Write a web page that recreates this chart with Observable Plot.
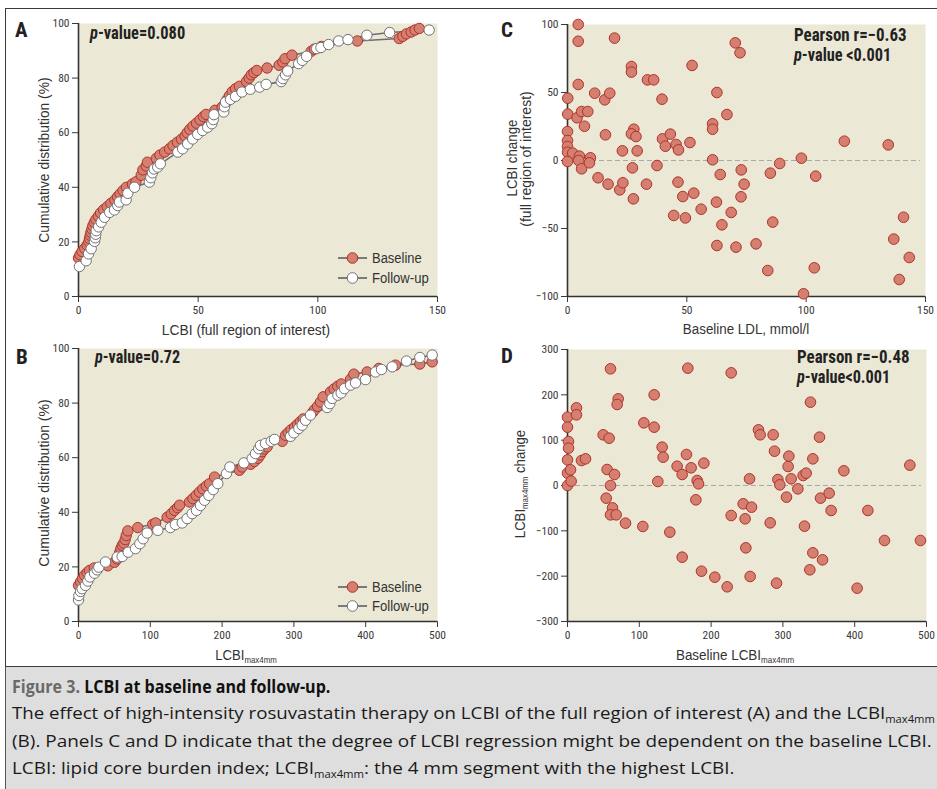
<!DOCTYPE html>
<html><head><meta charset="utf-8">
<script src="https://cdn.jsdelivr.net/npm/d3@7"></script>
<script src="https://cdn.jsdelivr.net/npm/@observablehq/plot@0.6"></script>
<style>
body{margin:0;background:#fff;}
#fig{position:relative;width:937px;height:789px;overflow:hidden;background:#fff;font-family:"Liberation Sans",Arial,sans-serif;color:#333;}
.abs{position:absolute;white-space:nowrap;transform-origin:0 0;line-height:1;}
.pan{position:absolute;}
.pan svg{overflow:visible;}
sub{font-size:0.6em;vertical-align:-0.4em;line-height:0;}
</style></head>
<body><div id="fig"></div>
<script>
// ---------- DATA ----------
const aBaseLCBI = [0,0.6,1.5,2.6,3.6,4.3,4.6,4.9,5.2,5.6,6.0,6.6,7.3,8.3,9.2,10.5,12.0,13.5,15.2,16.3,17.4,18.6,20.0,22.5,24.0,26.2,26.9,28.3,28.8,32.5,34.0,36.0,38.0,39.5,41.3,43.0,44.5,45.4,46.5,47.8,49.3,50.8,52.2,53.3,57.0,60.0,61.3,62.0,63.0,64.2,65.6,67.2,70.2,71.3,72.2,73.3,74.5,78.8,83.8,85.4,86.3,89.2,97.2,98.5,101.5,116.5,134.0,135.5,137.0,139.0,140.6,142.4];
const aBaseCum = [14.1,15.3,16.5,17.6,18.8,20.0,21.2,22.4,23.5,24.7,25.9,27.1,28.2,29.4,30.6,31.8,32.9,34.1,35.3,36.5,37.6,38.8,40.0,41.2,42.0,44.4,46.4,47.8,49.2,50.6,51.8,52.9,54.1,55.3,56.5,57.6,58.8,60.0,61.2,62.4,63.5,64.7,65.9,66.7,68.2,69.4,70.6,72.0,73.5,75.0,76.1,77.0,78.8,80.0,81.2,82.0,82.8,83.7,84.7,85.9,87.1,88.4,89.8,90.6,91.6,93.6,94.5,95.3,96.2,96.9,97.6,98.2];
const aFollowLCBI = [0.4,3.2,4.2,5.3,6.7,7.0,7.2,7.4,8.4,9.5,10.9,13.0,15.0,16.4,17.1,19.9,20.6,23.4,29.6,30.2,30.9,31.6,33.1,34.2,41.5,43.5,45.6,47.7,49.8,51.9,54.0,55.7,56.3,56.6,60.7,61.0,61.4,63.5,65.6,68.3,71.8,75.7,78.4,84.7,85.4,86.5,87.4,92.0,93.5,95.3,99.5,101.3,104.5,108.7,112.6,120.5,130.0,146.5];
const aFollowCum = [11.0,13.1,15.6,17.5,20.2,21.5,22.8,24.1,25.5,27.2,29.0,30.8,31.7,33.3,34.6,35.4,37.8,40.0,41.9,43.5,45.3,46.7,47.4,48.6,52.9,54.1,55.9,57.7,59.4,60.8,62.0,63.3,64.8,66.6,67.6,69.5,71.2,72.2,73.3,74.9,75.9,76.7,77.7,78.7,79.8,81.2,82.6,85.3,86.5,88.0,90.8,91.2,92.3,93.6,94.1,95.7,96.7,97.6];

const bBaseLCBI = [0,2.8,5.5,8.4,12.0,15.3,22.0,40.8,50.1,54.0,56.0,57.5,59.0,61.0,63.1,65.0,66.5,68.7,82.6,103.5,107.5,123.5,129.0,133.7,138.0,140.7,154.6,159.3,163.9,168.5,173.2,178.0,182.5,189.5,224.2,228.0,240.0,245.0,250.0,253.0,256.0,259.0,262.8,283.7,288.3,292.0,296.0,301.0,305.0,309.0,313.0,326.0,329.0,333.0,337.0,340.8,351.0,356.0,361.0,366.0,379.0,383.5,402.0,418.3,441.5,475.4,492.6];
const bBaseCum = [13.2,14.5,15.7,16.9,17.9,18.7,19.6,20.4,21.7,22.9,24.2,25.4,26.7,27.9,28.7,30.0,31.5,33.2,34.4,35.6,36.1,38.2,39.4,40.7,41.7,42.6,43.8,45.0,46.2,47.4,48.6,49.6,50.5,52.9,55.4,56.6,57.6,58.6,59.8,61.0,62.2,63.2,64.0,66.0,68.2,69.2,70.2,71.2,72.2,73.2,74.2,76.6,77.6,78.8,80.4,82.3,84.1,85.2,86.2,87.0,88.8,90.6,91.4,92.7,93.9,94.3,95.1];
const bFollowLCBI = [0,0.5,2.8,5.0,9.7,13.0,15.8,22.3,26.0,28.3,37.6,53.9,60.8,69.2,79.4,85.4,90.0,95.6,110.5,128.0,135.0,144.4,151.3,158.3,164.3,169.9,175.5,181.5,187.6,194.0,206.1,210.8,230.3,241.9,246.5,251.0,253.5,260.4,268.3,273.0,295.3,300.0,306.9,311.5,316.2,323.1,346.3,350.0,353.3,361.2,365.8,370.4,378.8,385.8,399.7,413.6,422.0,436.9,456.8,475.4,492.6];
const bFollowCum = [7.9,9.5,11.0,12.0,13.2,14.8,16.3,17.7,18.9,19.9,21.8,23.6,23.8,25.4,26.7,28.5,30.3,32.4,33.4,34.4,35.5,36.1,37.7,39.5,40.7,42.5,44.4,46.2,48.3,50.5,54.2,56.6,58.1,59.7,61.5,63.3,64.5,65.2,66.0,66.7,67.8,69.1,70.7,71.9,73.7,75.6,78.4,79.8,81.7,82.9,83.7,85.3,86.6,87.4,88.6,91.4,92.3,93.3,95.4,96.7,97.6];

const cLDL = [4.5,4.5,19.7,4.5,0.1,0.1,4,5.9,8.5,7.1,11.4,15.6,17.7,0,0,0,0,2.2,0,5,4.7,5.9,9.6,9.2,12.8,15.9,17,21.9,23.2,23,26.8,26.8,27.8,26.8,28.7,29.2,27.2,27.6,33.1,33.5,36.1,37.5,39.6,39.8,41,43.1,45.5,46.5,46.3,48.3,44.5,49.4,51.3,52.2,52.9,56,60.8,60.8,62.6,60.8,62.4,64,62.6,64.7,66.8,68.6,70.3,72.3,70.6,72.8,74,72.7,79,83.9,85,86,88.9,98,98.9,104,103.4,116,134.4,136.7,140.8,139,143.2];
const cChange = [100,87.7,90,55.9,45.8,34.1,31.4,36,36,25.2,49.5,44.6,49.5,21.3,14.7,10.3,6.1,5.4,-0.7,3.2,0,-6.1,2,-1.7,-12.7,18.9,-17.4,-21.6,-16.4,7.1,69.1,65,23,19.6,17.6,7.1,-5.4,-28.2,-17.4,59.3,59.3,-3.7,45.1,15.9,10.5,19.4,11.8,7.8,-15.9,-26.5,-40.4,-42.2,13.2,69.9,-24,-35.8,27,23,50,0.5,-30.6,-10.3,-62.5,-47.3,33.8,-38.2,86.5,79.2,-63.7,-6.9,-17.4,-26.7,-61.3,-80.9,-9.3,-45.3,-2.2,1.7,-98,-11.5,-78.9,14.2,11.5,-57.8,-41.7,-87.5,-71.3];

const dBase = [0,0,1.4,1.4,0,0,0,5.1,4.2,12.5,12.5,19.5,25.1,49.7,58,59.9,70.6,69.2,55.2,65.5,59.9,53.9,62.7,59.9,67.8,80.8,104.9,106.3,120.7,120.7,125.8,131.8,133.2,142.5,152.7,159.7,159.7,167.6,165.7,172.2,180.6,182.5,178.8,189.9,186.6,205.2,222.4,228,228,244.7,247.4,256.3,253.5,248.4,254.4,266,268.3,286.4,288.3,282.3,293,295.7,291.1,305,308.3,307.3,311.5,320.8,328.2,332.4,330.1,338.4,351,341.7,352.4,364.4,367.2,341.7,355.2,337.5,384.9,418.3,403.4,441.5,476.8,491.6];
const dChange = [150.7,128.7,97,82.4,56.6,27.2,0,9.6,34.6,171.3,155.9,55.1,58.8,111.8,104.4,257.4,191.2,178.7,35.3,24.3,0,-27.9,-49.3,-64.7,-64.7,-83.1,-90.4,138.2,200,128.7,8.8,84.6,62.5,-102.9,42.6,24.3,-158.1,258.8,68.4,39,11,3.7,-31.6,49.3,-189,-202.2,-223.5,248.5,-66.2,-40.4,-73.5,-47.8,14.7,-137.5,-200.7,122.8,111.8,111.8,75.7,-82.4,13.2,1.5,-215.4,-25.7,64.7,41.9,14.7,-7.4,22.1,27.2,-89.7,183.8,106.6,58.8,-27.9,-16.9,-55.1,-148.5,-164,-186,32.4,-55.1,-226.5,-121.3,44.9,-121.3];

const cdfYTicks = [0,20,40,60,80,100];
const aXTicks = [0,50,100,150];
const bXTicks = [0,100,200,300,400,500];
const cYTicks = [-100,-50,0,50,100];
const cXTicks = [0,50,100,150];
const dYTicks = [-300,-200,-100,0,100,200,300];
const dXTicks = [0,100,200,300,400,500];
const seriesNames = ["Baseline","Follow-up"];

// ---------- STYLE ----------
const BG = "#ece8d6";
const RED = "#d47f70";
const REDS = "#b0322a";
const WSTROKE = "#727272";
const LINEC = "#6e6e6e";
const AXC = "#333";
const TICKFONT = '"Liberation Sans Narrow","Roboto Condensed","DejaVu Sans Condensed","Liberation Sans",sans-serif';
const fmt = d => (d < 0 ? "\u2212" + Math.abs(d) : String(d));

const fig = document.getElementById("fig");
const zip = (xs, ys) => xs.map((v, i) => ({v, p: ys[i]}));

function place(node, left, top, w, h) {
  const d = document.createElement("div");
  d.className = "pan";
  d.style.left = left + "px"; d.style.top = top + "px";
  d.style.width = w + "px"; d.style.height = h + "px";
  d.appendChild(node);
  fig.appendChild(d);
}

function cdfPanel(base, follow, xDomain, xTicks, mt, mb) {
  return Plot.plot({
    width: 460, height: 340,
    marginLeft: 78, marginRight: 23, marginTop: mt, marginBottom: mb,
    style: {background: "transparent", fontFamily: TICKFONT, fontSize: "11.5px", color: "#3a3a3a", overflow: "visible", fontStretch: "condensed"},
    x: {domain: xDomain, ticks: xTicks, tickSize: 6, tickPadding: 3, label: null, tickFormat: fmt},
    y: {domain: [0, 100], ticks: cdfYTicks, tickSize: 6, tickPadding: 3, label: null, tickFormat: fmt},
    marks: [
      Plot.frame({fill: BG, stroke: "none"}),
      Plot.ruleX([xDomain[0]], {stroke: AXC, strokeWidth: 1.6}),
      Plot.ruleY([0], {stroke: AXC, strokeWidth: 1.6}),
      Plot.line(base, {x: "v", y: "p", stroke: LINEC, strokeWidth: 1.6}),
      Plot.line(follow, {x: "v", y: "p", stroke: LINEC, strokeWidth: 1.6}),
      Plot.dot(base, {x: "v", y: "p", r: 5.2, fill: RED, stroke: REDS, strokeWidth: 1}),
      Plot.dot(follow, {x: "v", y: "p", r: 5.2, fill: "#fff", stroke: WSTROKE, strokeWidth: 1})
    ]
  });
}

function scatterPanel(data, xDomain, xTicks, yDomain, yTicks, mt, mb, mr) {
  return Plot.plot({
    width: 467, height: 340,
    marginLeft: 97, marginRight: mr, marginTop: mt, marginBottom: mb,
    style: {background: "transparent", fontFamily: TICKFONT, fontSize: "11.5px", color: "#3a3a3a", overflow: "visible", fontStretch: "condensed"},
    x: {domain: xDomain, ticks: xTicks, tickSize: 6, tickPadding: 3, label: null, tickFormat: fmt},
    y: {domain: yDomain, ticks: yTicks, tickSize: 6, tickPadding: 3, label: null, tickFormat: fmt},
    marks: [
      Plot.frame({fill: BG, stroke: "none"}),
      Plot.ruleY([0], {stroke: "#a9a9a9", strokeWidth: 1.2, strokeDasharray: "5,3", insetRight: 5}),
      Plot.ruleX([xDomain[0]], {stroke: AXC, strokeWidth: 1.6}),
      Plot.ruleY([yDomain[0]], {stroke: AXC, strokeWidth: 1.6}),
      Plot.dot(data, {x: "v", y: "p", r: 5.3, fill: RED, stroke: REDS, strokeWidth: 1})
    ]
  });
}

// frame box & caption background
const box = document.createElement("div");
box.style.cssText = "position:absolute;left:5px;top:8px;width:945px;height:659px;border:1.5px solid #3a3a3a;box-sizing:border-box;";
fig.appendChild(box);
const cap = document.createElement("div");
cap.style.cssText = "position:absolute;left:5px;top:667px;width:940px;height:130px;background:#dedede;border-left:1.5px solid #555;box-sizing:border-box;";
fig.appendChild(cap);

place(cdfPanel(zip(aBaseLCBI, aBaseCum), zip(aFollowLCBI, aFollowCum), [0, 150], aXTicks, 23, 44), 0, 0, 460, 340);
place(cdfPanel(zip(bBaseLCBI, bBaseCum), zip(bFollowLCBI, bFollowCum), [0, 500], bXTicks, 18, 49), 0, 330, 460, 340);
place(scatterPanel(zip(cLDL, cChange), [0, 150], cXTicks, [-100, 100], cYTicks, 24, 44, 12), 470, 0, 467, 340);
place(scatterPanel(zip(dBase, dChange), [0, 500], dXTicks, [-300, 300], dYTicks, 19, 49, 11), 470, 330, 467, 340);

// ---------- legend overlay ----------
const ov = d3.select(fig).append("svg")
  .attr("width", 937).attr("height", 789)
  .style("position", "absolute").style("left", 0).style("top", 0).style("pointer-events", "none");
[[258, 278], [587, 606]].forEach(ys => {
  ys.forEach((y, i) => {
    ov.append("line").attr("x1", 338).attr("x2", 367).attr("y1", y).attr("y2", y)
      .attr("stroke", LINEC).attr("stroke-width", 1.8);
    ov.append("circle").attr("cx", 352.5).attr("cy", y).attr("r", 5.3)
      .attr("fill", i === 0 ? RED : "#fff").attr("stroke", i === 0 ? REDS : WSTROKE).attr("stroke-width", 1);
  });
});

// ---------- texts ----------
function addText(html, o) {
  const el = document.createElement("div");
  el.className = "abs";
  el.innerHTML = html;
  el.style.fontSize = (o.size || 14) + "px";
  if (o.family) el.style.fontFamily = o.family;
  if (o.weight) el.style.fontWeight = o.weight;
  el.style.color = o.color || "#333";
  el.style.left = o.x + "px";
  el.style.top = o.y + "px";
  fig.appendChild(el);
  const nat = el.offsetWidth;
  const s = o.w ? o.w / nat : 1;
  if (o.rotate) el.style.transform = `rotate(-90deg) scale(${s},1) translate(-50%,-50%)`;
  else if (o.anchor === "middle") el.style.transform = `scale(${s},1) translate(-50%,-50%)`;
  else el.style.transform = `scale(${s},1) translate(0,-50%)`;
  return el;
}
const COND = TICKFONT;
const LET = {size: 21, weight: "bold", family: COND, color: "#222"};
addText("A", {...LET, x: 15, y: 30, w: 13});
addText("B", {...LET, x: 16, y: 357, w: 12});
addText("C", {...LET, x: 501, y: 30, w: 12});
addText("D", {...LET, x: 501, y: 356, w: 12});

const ANN = {size: 18, weight: "bold", family: COND, color: "#222"};
addText("<i>p</i>-value=0.080", {...ANN, x: 90, y: 33, w: 95});
addText("<i>p</i>-value=0.72", {...ANN, x: 95, y: 357, w: 85});
addText("Pearson r=\u22120.63", {...ANN, x: 794, y: 35, w: 113});
addText("<i>p</i>-value &lt;0.001", {...ANN, x: 794, y: 55, w: 97});
addText("Pearson r=\u22120.48", {...ANN, x: 797, y: 357, w: 113});
addText("<i>p</i>-value&lt;0.001", {...ANN, x: 797, y: 377, w: 93});

const LAB = {size: 14, color: "#333"};
addText("Cumulative distribution (%)", {...LAB, x: 44, y: 160, w: 165, rotate: true});
addText("LCBI (full region of interest)", {...LAB, x: 246, y: 330, w: 168, anchor: "middle"});
addText("Cumulative distribution (%)", {...LAB, x: 44, y: 483, w: 167, rotate: true});
addText("LCBI<sub>max4mm</sub>", {...LAB, x: 246, y: 655, w: 62, anchor: "middle"});
addText("LCBI change", {...LAB, x: 512, y: 158, w: 77, rotate: true});
addText("(full region of interest)", {...LAB, x: 526, y: 159, w: 135, rotate: true});
addText("Baseline LDL, mmol/l", {...LAB, x: 746, y: 329, w: 126, anchor: "middle"});
addText("LCBI<sub>max4mm</sub> change", {...LAB, x: 520, y: 484, w: 108, rotate: true});
addText("Baseline LCBI<sub>max4mm</sub>", {...LAB, x: 735, y: 655, w: 118, anchor: "middle"});

seriesNames.forEach((n, i) => {
  addText(n, {size: 14, color: "#333", x: 372, y: 258 + 20 * i, w: i === 0 ? 50 : 57});
  addText(n, {size: 14, color: "#333", x: 372, y: 587 + 19 * i, w: i === 0 ? 50 : 57});
});

// caption
const CAPF = '"Open Sans","Liberation Sans",sans-serif';
addText('<span style="color:#6a6a6a">Figure 3.</span> LCBI at baseline and follow-up.', {size: 17, weight: "bold", family: CAPF, color: "#111", x: 12, y: 686, w: 318});
addText("The effect of high-intensity rosuvastatin therapy on LCBI of the full region of interest (A) and the LCBI<sub>max4mm</sub>", {size: 17, family: CAPF, color: "#1a1a1a", x: 12, y: 712, w: 923});
addText("(B). Panels C and D indicate that the degree of LCBI regression might be dependent on the baseline LCBI.", {size: 17, family: CAPF, color: "#1a1a1a", x: 12, y: 740, w: 920});
addText("LCBI: lipid core burden index; LCBI<sub>max4mm</sub>: the 4 mm segment with the highest LCBI.", {size: 17, family: CAPF, color: "#1a1a1a", x: 12, y: 767, w: 723});
</script>
</body></html>
